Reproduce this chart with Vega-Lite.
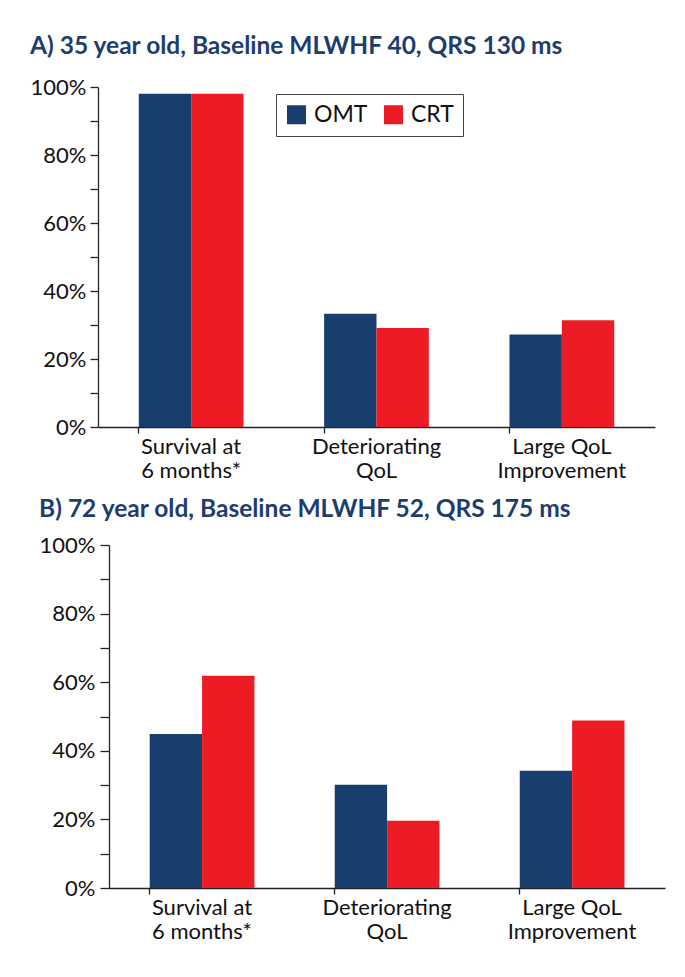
{
  "$schema": "https://vega.github.io/schema/vega-lite/v6.json",
  "background": "white",
  "padding": {"left": 30, "top": 33, "right": 5, "bottom": 5},
  "data": {"values": [
    {"panel": "A", "measure": "Survival at|6 months*", "group": "OMT", "value": 0.98},
    {"panel": "A", "measure": "Survival at|6 months*", "group": "CRT", "value": 0.98},
    {"panel": "A", "measure": "Deteriorating|QoL", "group": "OMT", "value": 0.333},
    {"panel": "A", "measure": "Deteriorating|QoL", "group": "CRT", "value": 0.291},
    {"panel": "A", "measure": "Large QoL|Improvement", "group": "OMT", "value": 0.272},
    {"panel": "A", "measure": "Large QoL|Improvement", "group": "CRT", "value": 0.314},
    {"panel": "B", "measure": "Survival at|6 months*", "group": "OMT", "value": 0.449},
    {"panel": "B", "measure": "Survival at|6 months*", "group": "CRT", "value": 0.619},
    {"panel": "B", "measure": "Deteriorating|QoL", "group": "OMT", "value": 0.301},
    {"panel": "B", "measure": "Deteriorating|QoL", "group": "CRT", "value": 0.196},
    {"panel": "B", "measure": "Large QoL|Improvement", "group": "OMT", "value": 0.342},
    {"panel": "B", "measure": "Large QoL|Improvement", "group": "CRT", "value": 0.488}
  ]},
  "config": {
    "font": "Lato",
    "view": {"stroke": null},
    "axis": {"labelFont": "Lato", "labelFontSize": 22, "labelColor": "#111111", "domainColor": "#222222", "tickColor": "#222222", "grid": false, "title": null, "domainWidth": 1.3, "tickWidth": 1.3},
    "legend": {"labelFont": "Lato", "labelFontSize": 23, "labelColor": "#111111"}
  },
  "spacing": 14,
  "vconcat": [
    {
      "title": {"text": "A) 35 year old, Baseline MLWHF 40, QRS 130 ms", "anchor": "start", "frame": "bounds", "fontSize": 24.5, "fontWeight": "bold", "color": "#1e3d6f", "offset": 17},
      "width": 557,
      "height": 340,
      "transform": [{"filter": "datum.panel == 'A'"}],
      "mark": {"type": "bar"},
      "encoding": {
        "x": {"field": "measure", "type": "nominal", "sort": null, "scale": {"paddingInner": 0.435, "paddingOuter": 0.22}, "axis": {"labelAngle": 0, "labelExpr": "split(datum.label, '|')", "bandPosition": 0, "tickSize": 6, "labelPadding": 3, "labelLineHeight": 24.5}},
        "xOffset": {"field": "group", "type": "nominal", "sort": ["OMT", "CRT"]},
        "y": {"field": "value", "type": "quantitative", "scale": {"domain": [0, 1]}, "axis": {"values": [0, 0.1, 0.2, 0.3, 0.4, 0.5, 0.6, 0.7, 0.8, 0.9, 1], "format": ".0%", "labelExpr": "round(datum.value * 10) % 2 == 0 ? datum.label : ''", "tickSize": 8, "labelPadding": 4}},
        "color": {"field": "group", "type": "nominal", "scale": {"domain": ["OMT", "CRT"], "range": ["#183e6e", "#ed1c24"]}, "legend": {"title": null, "orient": "none", "legendX": 178, "legendY": 7, "direction": "horizontal", "symbolType": "square", "symbolSize": 361, "symbolStrokeWidth": 0, "strokeColor": "#444444", "fillColor": "white", "padding": 9, "columnPadding": 14, "labelOffset": 6}}
      }
    },
    {
      "spacing": 10,
      "bounds": "flush",
      "hconcat": [
        {
          "width": 1,
          "height": 10,
          "transform": [{"filter": "false"}],
          "mark": {"type": "point"},
          "encoding": {}
        },
        {
          "title": {"text": "B) 72 year old, Baseline MLWHF 52, QRS 175 ms", "anchor": "start", "frame": "bounds", "fontSize": 24.5, "fontWeight": "bold", "color": "#1e3d6f", "offset": 12},
          "width": 556,
          "height": 343,
          "transform": [{"filter": "datum.panel == 'B'"}],
          "mark": {"type": "bar"},
          "encoding": {
            "x": {"field": "measure", "type": "nominal", "sort": null, "scale": {"paddingInner": 0.435, "paddingOuter": 0.22}, "axis": {"labelAngle": 0, "labelExpr": "split(datum.label, '|')", "bandPosition": 0, "tickSize": 6, "labelPadding": 3, "labelLineHeight": 24.5}},
            "xOffset": {"field": "group", "type": "nominal", "sort": ["OMT", "CRT"]},
            "y": {"field": "value", "type": "quantitative", "scale": {"domain": [0, 1]}, "axis": {"values": [0, 0.1, 0.2, 0.3, 0.4, 0.5, 0.6, 0.7, 0.8, 0.9, 1], "format": ".0%", "labelExpr": "round(datum.value * 10) % 2 == 0 ? datum.label : ''", "tickSize": 9, "labelPadding": 5}},
            "color": {"field": "group", "type": "nominal", "scale": {"domain": ["OMT", "CRT"], "range": ["#183e6e", "#ed1c24"]}, "legend": {"title": null, "orient": "none", "legendX": 189, "legendY": 10, "direction": "horizontal", "symbolType": "square", "symbolSize": 361, "symbolStrokeWidth": 0, "strokeColor": "#444444", "fillColor": "white", "padding": 10, "columnPadding": 14, "labelOffset": 6}}
          }
        }
      ]
    }
  ]
}
